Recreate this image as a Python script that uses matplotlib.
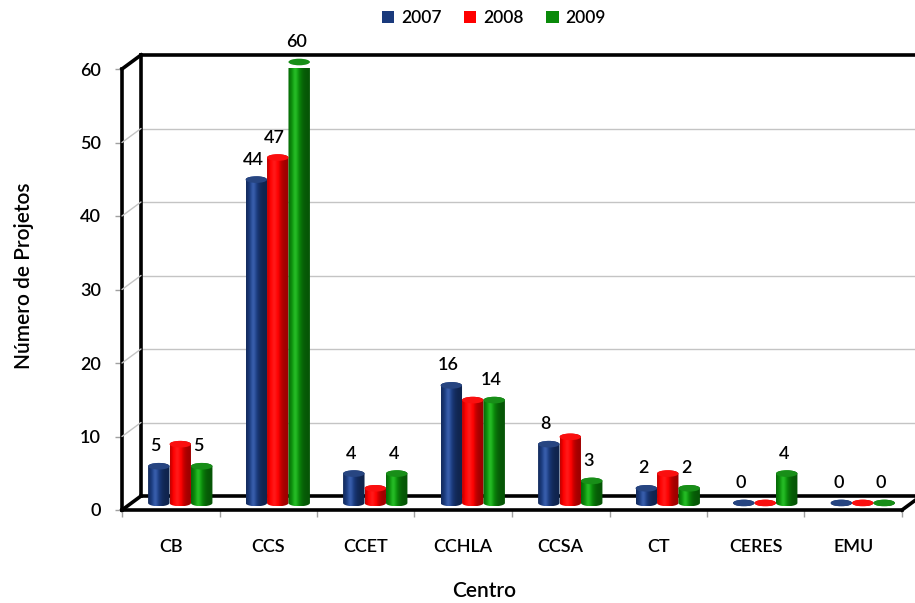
import numpy as np
import matplotlib
matplotlib.use("Agg")
import matplotlib.pyplot as plt
import matplotlib.transforms as mtransforms
from matplotlib.patches import Ellipse, ConnectionPatch, Patch, PathPatch
from matplotlib.path import Path
from matplotlib.colors import to_rgb

plt.rcParams['font.family'] = ['Lato', 'DejaVu Sans']
plt.rcParams['font.weight'] = 'semibold'

centros = ["CB", "CCS", "CCET", "CCHLA", "CCSA", "CT", "CERES", "EMU"]
anos = ["2007", "2008", "2009"]
proj_2007 = [5, 44, 4, 16, 8, 2, 0, 0]
proj_2008 = [8, 47, 2, 14, 9, 4, 0, 0]
proj_2009 = [5, 60, 4, 14, 3, 2, 4, 0]
# 2008 values are only annotated for these centres
rotulos_2008 = ["CCS"]
y_ticks = [0, 10, 20, 30, 40, 50, 60]

cores = ["#1a3a7c", "#ff0000", "#0a8a0a"]

fig = plt.figure(figsize=(9.15, 6.03), dpi=100)
ax = fig.add_axes([122 / 915, 93 / 603, 780 / 915, 441 / 603])
ax.set_xlim(0, len(centros))
ax.set_ylim(0, 60)
for s in ax.spines.values():
    s.set_visible(False)

# depth offsets (pixels) for the back wall and the plane the cylinders stand on
tr_back = mtransforms.offset_copy(ax.transData, fig=fig, x=19, y=14, units='dots')
tr_bar = mtransforms.offset_copy(ax.transData, fig=fig, x=9.5, y=7, units='dots')

# back wall and side wall gridlines
grid_c = "#c4c4c4"
for v in y_ticks[1:-1]:
    ax.plot([0, len(centros) + 0.5], [v, v], transform=tr_back, color=grid_c,
            lw=1.0, clip_on=False, zorder=1)
    fig.add_artist(ConnectionPatch(xyA=(0, v), coordsA=ax.transData,
                                   xyB=(0, v), coordsB=tr_back,
                                   color=grid_c, lw=1.0, zorder=1))

# frame edges
k = dict(color="black", lw=2.6, solid_capstyle='projecting', zorder=6)
ax.plot([0, len(centros) + 0.5], [60, 60], transform=tr_back, clip_on=False, **k)
ax.plot([0, 0], [0, 60], transform=tr_back, clip_on=False, **k)
ax.plot([0, len(centros) + 0.5], [0, 0], transform=tr_back, clip_on=False, zorder=2,
        color="black", lw=2.6)
ax.plot([0, 0], [0, 60], transform=ax.transData, clip_on=False, **k)
ax.plot([0, len(centros)], [0, 0], transform=ax.transData, clip_on=False, **k)
for (xa, ya) in [(0, 0), (0, 60), (len(centros), 0)]:
    fig.add_artist(ConnectionPatch(xyA=(xa, ya), coordsA=ax.transData,
                                   xyB=(xa, ya), coordsB=tr_back,
                                   color="black", lw=2.6, zorder=6,
                                   capstyle='projecting'))


def shade(base, n=64):
    r = np.array(to_rgb(base))
    t = np.linspace(0, 1, n)
    f = 0.62 + 0.55 * np.exp(-((t - 0.33) / 0.28) ** 2)
    cols = np.clip(r[None, :] * f[:, None] + 0.10 * np.exp(-((t - 0.33) / 0.12) ** 2)[:, None], 0, 1)
    return cols[None, :, :]


bw = 0.22
cap = 0.45  # half height of the elliptical caps, in data units
series = [proj_2007, proj_2008, proj_2009]
for j, vals in enumerate(series):
    for i, v in enumerate(vals):
        xc = i + 0.5 + (j - 1) * bw
        x0, x1 = xc - bw / 2, xc + bw / 2
        # outline: bottom half ellipse, sides, top half ellipse
        th1 = np.linspace(np.pi, 2 * np.pi, 30)
        th2 = np.linspace(0, np.pi, 30)
        xs = np.concatenate([xc + bw / 2 * np.cos(th1), xc + bw / 2 * np.cos(th2)])
        ys = np.concatenate([0 + cap * np.sin(th1), v + cap * np.sin(th2)])
        verts = np.column_stack([xs, ys])
        clip = PathPatch(Path(np.vstack([verts, verts[:1]]), closed=True),
                         transform=tr_bar, facecolor='none', edgecolor='none')
        im = ax.imshow(shade(cores[j]), extent=(x0, x1, -cap, v + cap),
                       aspect='auto', interpolation='bilinear',
                       transform=tr_bar, zorder=3 + 0.01 * j)
        im.set_clip_path(clip)
        im.set_clip_box(None)
        top = Ellipse((xc, v), bw, 2 * cap, transform=tr_bar,
                      facecolor=np.clip(np.array(to_rgb(cores[j])) * 0.92 + 0.06, 0, 1),
                      edgecolor='none', zorder=3.05 + 0.01 * j, clip_on=False)
        ax.add_patch(top)
        show = j != 1 or centros[i] in rotulos_2008
        if show:
            ax.annotate(str(v), (xc, v), xycoords=tr_bar, xytext=(-3, 12),
                        textcoords='offset pixels', ha='center', va='bottom',
                        fontsize=13, color='black', zorder=8,
                        annotation_clip=False)

ax.set_xlim(0, len(centros))
ax.set_ylim(0, 60)

# axis ticks
ax.set_yticks(y_ticks)
ax.set_yticklabels([str(t) for t in y_ticks])
ax.tick_params(axis='y', length=5, width=1, color='#a0a0a0', pad=10, labelsize=13)
ax.set_xticks(np.arange(len(centros)) + 0.5)
ax.set_xticklabels(centros)
ax.set_xticks(np.arange(len(centros) + 1), minor=True)
ax.tick_params(axis='x', which='major', length=0, pad=21, labelsize=13)
ax.tick_params(axis='x', which='minor', length=5, width=1, color='#a0a0a0')

fig.text(484 / 915, 1 - 591 / 603, "Centro", ha='center', va='center', fontsize=15)
fig.text(24 / 915, 1 - 276 / 603, "Número de Projetos", ha='center', va='center',
         rotation=90, fontsize=15)

handles = [Patch(facecolor=c, edgecolor='none') for c in cores]
fig.legend(handles, anos, loc='center', bbox_to_anchor=(494 / 915, 1 - 18 / 603),
           ncol=3, frameon=False, fontsize=12.5, handlelength=0.7, handleheight=0.7,
           handletextpad=0.4, columnspacing=1.3)

fig.savefig("out.png", dpi=100)
